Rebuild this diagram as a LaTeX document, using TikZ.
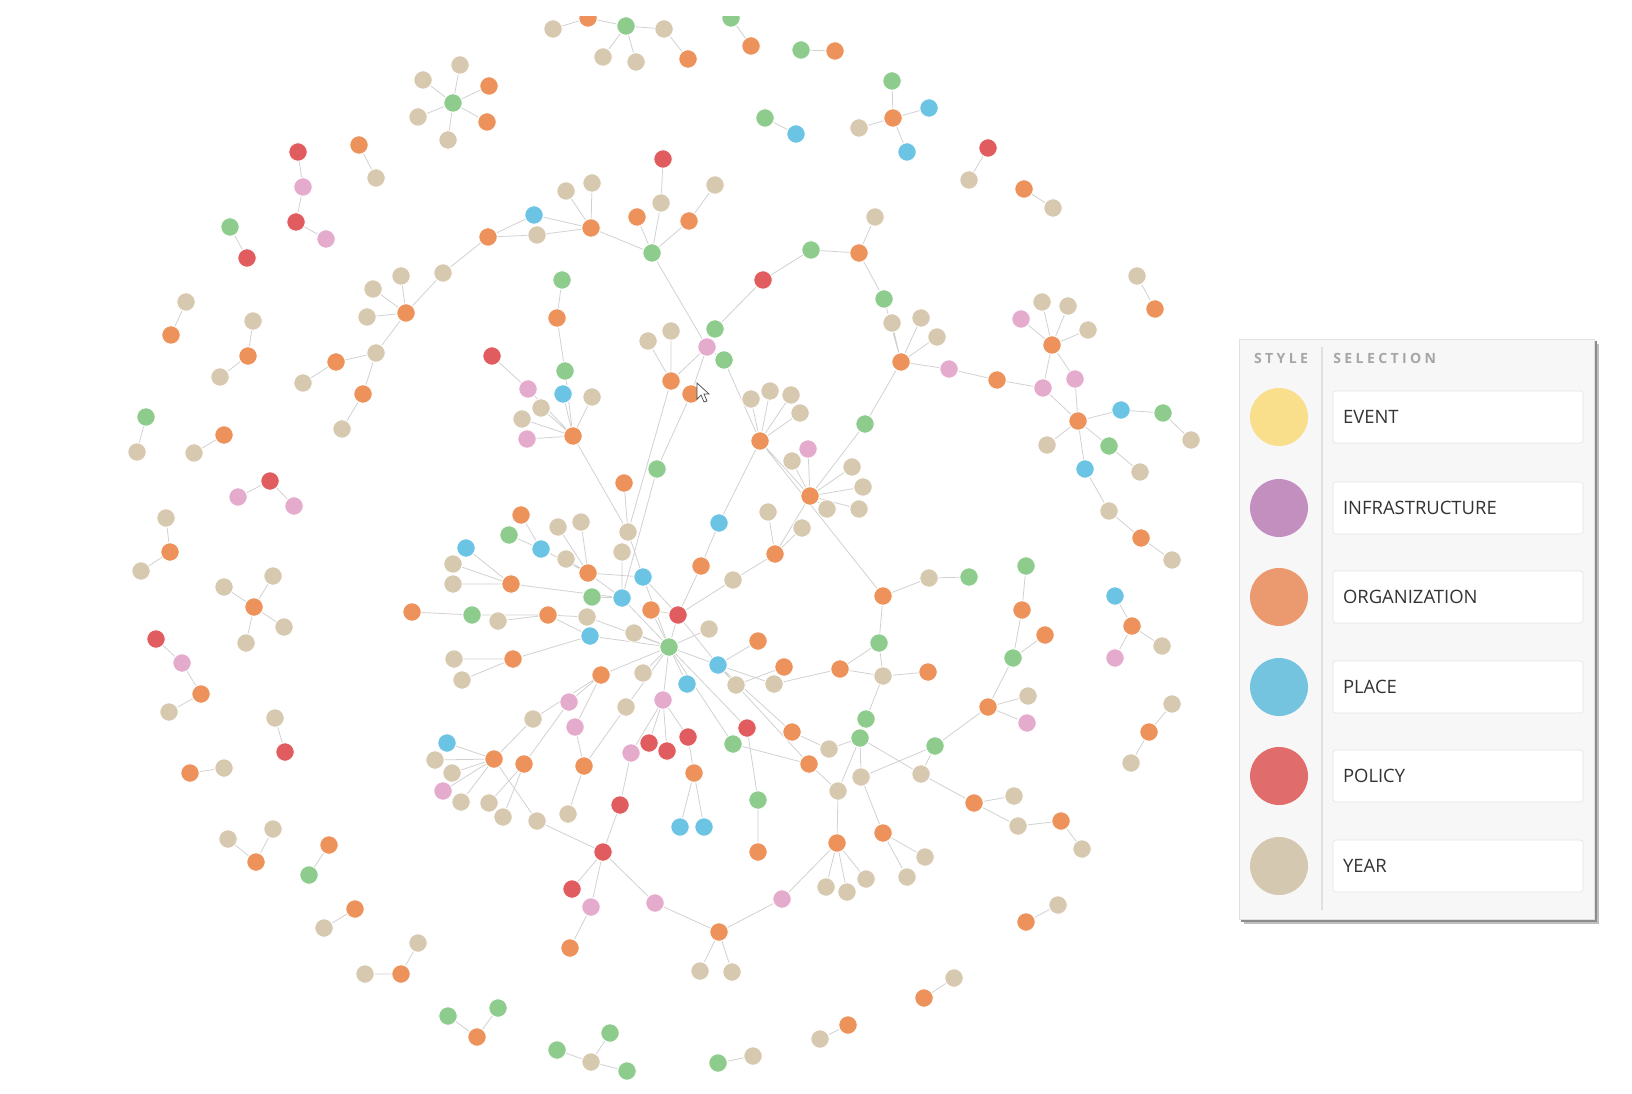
\documentclass[tikz,border=0pt]{standalone}
\usepackage{fontspec}
\setmainfont{Open Sans}
\usetikzlibrary{backgrounds}

\definecolor{orgc}{RGB}{236,146,90}
\definecolor{yrc}{RGB}{215,201,176}
\definecolor{grnc}{RGB}{141,204,140}
\definecolor{plcc}{RGB}{108,196,229}
\definecolor{polc}{RGB}{225,92,95}
\definecolor{infc}{RGB}{228,171,205}
\definecolor{evtl}{RGB}{249,222,139}
\definecolor{infl}{RGB}{194,143,191}
\definecolor{orgl}{RGB}{234,154,110}
\definecolor{plcl}{RGB}{116,196,224}
\definecolor{poll}{RGB}{224,109,107}
\definecolor{yrl}{RGB}{212,200,177}

\tikzstyle{gn}=[circle,draw=white,line width=0.5pt,minimum size=0.37cm,inner sep=0pt]
\tikzstyle{org}=[gn,fill=orgc]
\tikzstyle{yr}=[gn,fill=yrc]
\tikzstyle{grn}=[gn,fill=grnc]
\tikzstyle{plc}=[gn,fill=plcc]
\tikzstyle{pol}=[gn,fill=polc]
\tikzstyle{inf}=[gn,fill=infc]
\tikzstyle{lk}=[draw=black!18,line width=0.45pt]
\tikzstyle{legdot}=[circle,minimum size=1.16cm,inner sep=0pt]
\tikzstyle{legbox}=[rectangle,fill=white,draw=black!10,rounded corners=1.5pt,minimum width=5cm,minimum height=1.04cm,text width=4.6cm,inner xsep=0.2cm,align=left,text=black!80,font=\fontsize{10.5}{12}\selectfont]
\tikzstyle{hdr}=[text=black!35,inner sep=0pt,font=\fontsize{8}{9}\selectfont\bfseries\addfontfeature{LetterSpace=24}]

\begin{document}
\begin{tikzpicture}[x=0.02cm,y=-0.02cm]
\useasboundingbox (0,0) rectangle (1632,1094);

\begin{scope}
\clip (0,17) rectangle (1632,1094);

%Top row
\node [org] (t1) at (588,18) {};
\node [grn] (t2) at (626,26) {};
\node [yr] (t3) at (553,29) {};
\node [yr] (t4) at (664,29) {};
\node [yr] (t5) at (603,57) {};
\node [yr] (t6) at (636,62) {};
\node [org] (t7) at (688,59) {};
\node [grn] (t8) at (731,18) {};
\node [org] (t9) at (751,46) {};
\node [grn] (t10) at (801,50) {};
\node [org] (t11) at (835,51) {};

%Star top left
\node [grn] (s1) at (453,103) {};
\node [yr] (s2) at (460,65) {};
\node [yr] (s3) at (423,80) {};
\node [org] (s4) at (489,86) {};
\node [yr] (s5) at (418,117) {};
\node [org] (s6) at (487,122) {};
\node [yr] (s7) at (448,140) {};

%Top right pieces
\node [org] (u1) at (893,118) {};
\node [grn] (u2) at (892,81) {};
\node [plc] (u3) at (929,108) {};
\node [yr] (u4) at (859,128) {};
\node [plc] (u5) at (907,152) {};
\node [grn] (u6) at (765,118) {};
\node [plc] (u7) at (796,134) {};
\node [pol] (u8) at (988,148) {};
\node [yr] (u9) at (969,180) {};
\node [org] (u10) at (1024,189) {};
\node [yr] (u11) at (1053,208) {};
\node [yr] (u12) at (1137,276) {};
\node [org] (u13) at (1155,309) {};

%Left top pieces
\node [org] (l1) at (359,145) {};
\node [yr] (l2) at (376,178) {};
\node [pol] (l3) at (298,152) {};
\node [inf] (l4) at (303,187) {};
\node [pol] (l5) at (296,222) {};
\node [inf] (l6) at (326,239) {};
\node [grn] (l7) at (230,227) {};
\node [pol] (l8) at (247,258) {};
\node [yr] (l9) at (186,302) {};
\node [org] (l10) at (171,335) {};
\node [yr] (l11) at (253,321) {};
\node [org] (l12) at (248,356) {};
\node [yr] (l13) at (220,377) {};

%Upper left branch
\node [org] (c1) at (406,313) {};
\node [yr] (c2) at (401,276) {};
\node [yr] (c3) at (373,289) {};
\node [yr] (c4) at (367,317) {};
\node [yr] (c5) at (376,353) {};
\node [org] (c6) at (336,362) {};
\node [yr] (c7) at (303,383) {};
\node [org] (c8) at (363,394) {};
\node [yr] (c9) at (342,429) {};
\node [yr] (c10) at (443,273) {};
\node [org] (c11) at (488,237) {};
\node [plc] (c12) at (534,215) {};
\node [yr] (c13) at (537,235) {};
\node [org] (c14) at (591,228) {};
\node [yr] (c15) at (566,191) {};
\node [yr] (c16) at (592,183) {};

%Top middle hub
\node [grn] (h1) at (652,253) {};
\node [pol] (h2) at (663,159) {};
\node [yr] (h3) at (661,203) {};
\node [yr] (h4) at (715,185) {};
\node [org] (h5) at (637,217) {};
\node [org] (h6) at (689,221) {};
\node [grn] (p1) at (562,280) {};
\node [org] (p2) at (557,318) {};

%Right upper chain
\node [org] (r1) at (859,253) {};
\node [yr] (r2) at (875,217) {};
\node [grn] (r3) at (811,250) {};
\node [pol] (r4) at (763,280) {};
\node [grn] (r5) at (715,329) {};
\node [inf] (r6) at (707,347) {};
\node [grn] (r7) at (724,360) {};
\node [yr] (r8) at (648,341) {};
\node [yr] (r9) at (671,331) {};
\node [org] (r10) at (671,381) {};
\node [org] (r11) at (691,394) {};

%Left centre cluster
\node [org] (j1) at (573,436) {};
\node [grn] (j2) at (565,371) {};
\node [plc] (j3) at (563,394) {};
\node [yr] (j4) at (592,397) {};
\node [inf] (j5) at (528,389) {};
\node [yr] (j6) at (541,408) {};
\node [yr] (j7) at (522,419) {};
\node [inf] (j8) at (527,439) {};
\node [pol] (j9) at (492,356) {};

%Right centre cluster
\node [org] (a1) at (760,441) {};
\node [yr] (a2) at (751,399) {};
\node [yr] (a3) at (770,391) {};
\node [yr] (a4) at (791,395) {};
\node [yr] (a5) at (800,413) {};
\node [org] (a6) at (810,496) {};
\node [inf] (a7) at (808,449) {};
\node [yr] (a8) at (792,461) {};
\node [yr] (a9) at (827,509) {};
\node [yr] (a10) at (852,467) {};
\node [yr] (a11) at (863,487) {};
\node [yr] (a12) at (859,509) {};
\node [grn] (a13) at (865,424) {};
\node [org] (b1) at (775,554) {};
\node [yr] (b2) at (768,512) {};
\node [yr] (b3) at (802,528) {};

%Centre
\node [org] (m1) at (521,515) {};
\node [grn] (m2) at (509,535) {};
\node [yr] (m3) at (558,527) {};
\node [yr] (m4) at (581,522) {};
\node [plc] (m5) at (541,549) {};
\node [yr] (m6) at (566,559) {};
\node [yr] (m7) at (622,552) {};
\node [org] (m8) at (588,573) {};
\node [plc] (m9) at (643,577) {};
\node [org] (m10) at (701,566) {};
\node [yr] (m11) at (733,580) {};
\node [plc] (m12) at (719,523) {};
\node [yr] (m13) at (628,532) {};
\node [org] (m14) at (624,483) {};
\node [grn] (m15) at (657,469) {};
\node [org] (m16) at (511,584) {};
\node [grn] (m17) at (592,597) {};
\node [plc] (m18) at (622,598) {};
\node [org] (m19) at (651,610) {};
\node [pol] (m20) at (678,615) {};
\node [yr] (m21) at (498,621) {};
\node [org] (m22) at (548,615) {};
\node [yr] (m23) at (587,617) {};
\node [plc] (m24) at (590,636) {};
\node [yr] (m25) at (634,633) {};
\node [yr] (m26) at (709,629) {};
\node [grn] (m27) at (669,647) {};
\node [org] (m28) at (758,641) {};
\node [plc] (m29) at (718,665) {};
\node [org] (m30) at (513,659) {};
\node [org] (m31) at (601,675) {};
\node [yr] (m32) at (643,673) {};
\node [plc] (m33) at (687,684) {};
\node [yr] (m34) at (736,685) {};
\node [yr] (m35) at (774,684) {};
\node [org] (m36) at (784,667) {};
\node [org] (m37) at (840,669) {};
\node [inf] (m38) at (569,702) {};
\node [yr] (m39) at (626,707) {};
\node [inf] (m40) at (663,700) {};
\node [yr] (m41) at (533,719) {};
\node [inf] (m42) at (575,727) {};
\node [plc] (k1) at (466,548) {};
\node [yr] (k2) at (453,564) {};
\node [yr] (k3) at (453,584) {};
\node [org] (k4) at (412,612) {};
\node [grn] (k5) at (472,615) {};
\node [yr] (k6) at (454,659) {};
\node [yr] (k7) at (462,680) {};

%Lower middle
\node [org] (n1) at (494,759) {};
\node [org] (n2) at (524,764) {};
\node [org] (n3) at (584,766) {};
\node [yr] (n4) at (489,803) {};
\node [yr] (n5) at (503,817) {};
\node [yr] (n6) at (537,821) {};
\node [yr] (n7) at (568,814) {};
\node [inf] (n9) at (631,753) {};
\node [pol] (n10) at (649,743) {};
\node [pol] (n11) at (667,751) {};
\node [pol] (n12) at (688,737) {};
\node [grn] (n13) at (733,744) {};
\node [org] (n14) at (694,773) {};
\node [plc] (n15) at (680,827) {};
\node [plc] (n16) at (704,827) {};
\node [pol] (n17) at (620,805) {};
\node [pol] (n18) at (603,852) {};
\node [pol] (n19) at (572,889) {};
\node [inf] (n20) at (591,907) {};
\node [org] (n21) at (570,948) {};
\node [inf] (n22) at (655,903) {};
\node [org] (n23) at (719,932) {};
\node [yr] (n24) at (700,971) {};
\node [yr] (n25) at (732,972) {};
\node [inf] (n26) at (782,899) {};
\node [org] (n27) at (837,843) {};
\node [yr] (n28) at (826,887) {};
\node [yr] (n29) at (847,892) {};
\node [grn] (n30) at (758,800) {};
\node [org] (n31) at (758,852) {};
\node [org] (n32) at (809,764) {};
\node [yr] (n33) at (829,749) {};
\node [org] (n34) at (792,732) {};
\node [yr] (n35) at (838,791) {};
\node [pol] (n36) at (747,728) {};
\node [plc] (o1) at (447,743) {};
\node [yr] (o2) at (435,760) {};
\node [yr] (o3) at (452,773) {};
\node [inf] (o4) at (443,791) {};
\node [yr] (o5) at (461,802) {};

%Lower right
\node [grn] (q1) at (866,719) {};
\node [grn] (q2) at (860,738) {};
\node [grn] (q3) at (935,746) {};
\node [yr] (q4) at (861,777) {};
\node [yr] (q5) at (921,774) {};
\node [org] (q6) at (974,803) {};
\node [yr] (q7) at (1014,796) {};
\node [yr] (q8) at (1018,826) {};
\node [org] (q9) at (1061,821) {};
\node [yr] (q10) at (1082,849) {};
\node [org] (q11) at (883,833) {};
\node [yr] (q12) at (925,857) {};
\node [yr] (q13) at (907,877) {};
\node [yr] (q14) at (866,879) {};
\node [org] (v1) at (883,596) {};
\node [yr] (v2) at (929,578) {};
\node [grn] (v3) at (969,577) {};
\node [grn] (v4) at (879,643) {};
\node [yr] (v5) at (883,676) {};
\node [org] (v6) at (928,672) {};
\node [grn] (w1) at (1026,566) {};
\node [org] (w2) at (1022,610) {};
\node [org] (w3) at (1045,635) {};
\node [grn] (w4) at (1013,658) {};
\node [yr] (w5) at (1028,696) {};
\node [org] (w6) at (988,707) {};
\node [inf] (w7) at (1027,723) {};
\node [plc] (x1) at (1115,596) {};
\node [org] (x2) at (1132,626) {};
\node [yr] (x3) at (1162,646) {};
\node [inf] (x4) at (1115,658) {};
\node [yr] (x5) at (1172,704) {};
\node [org] (x6) at (1149,732) {};
\node [yr] (x7) at (1131,763) {};

%Right cluster
\node [org] (y1) at (901,362) {};
\node [inf] (y2) at (949,369) {};
\node [org] (y3) at (997,380) {};
\node [inf] (y4) at (1043,388) {};
\node [inf] (y5) at (1075,379) {};
\node [org] (y6) at (1078,421) {};
\node [plc] (y7) at (1121,410) {};
\node [grn] (y8) at (1163,413) {};
\node [yr] (y9) at (1191,440) {};
\node [yr] (y10) at (1047,445) {};
\node [grn] (y11) at (1109,446) {};
\node [yr] (y12) at (1140,472) {};
\node [plc] (y13) at (1085,469) {};
\node [yr] (y14) at (1109,511) {};
\node [org] (y15) at (1141,538) {};
\node [yr] (y16) at (1172,560) {};
\node [yr] (z1) at (1042,302) {};
\node [yr] (z2) at (1068,306) {};
\node [inf] (z3) at (1021,319) {};
\node [yr] (z4) at (1088,330) {};
\node [org] (z5) at (1052,345) {};
\node [grn] (g1) at (884,299) {};
\node [yr] (g2) at (892,323) {};
\node [yr] (g3) at (921,318) {};
\node [yr] (g4) at (937,337) {};

%Left side pieces
\node [grn] (e1) at (146,417) {};
\node [yr] (e2) at (137,452) {};
\node [org] (e3) at (224,435) {};
\node [yr] (e4) at (194,453) {};
\node [pol] (e5) at (270,481) {};
\node [inf] (e6) at (238,497) {};
\node [inf] (e7) at (294,506) {};
\node [yr] (e8) at (166,518) {};
\node [org] (e9) at (170,552) {};
\node [yr] (e10) at (141,571) {};
\node [org] (e11) at (254,607) {};
\node [yr] (e12) at (224,587) {};
\node [yr] (e13) at (273,576) {};
\node [yr] (e14) at (284,627) {};
\node [yr] (e15) at (246,643) {};
\node [pol] (e16) at (156,639) {};
\node [inf] (e17) at (182,663) {};
\node [org] (e18) at (201,694) {};
\node [yr] (e19) at (169,712) {};
\node [yr] (e20) at (275,718) {};
\node [pol] (e21) at (285,752) {};
\node [org] (e22) at (190,773) {};
\node [yr] (e23) at (224,768) {};
\node [yr] (e24) at (228,839) {};
\node [yr] (e25) at (273,829) {};
\node [org] (e26) at (256,862) {};
\node [org] (e27) at (329,845) {};
\node [grn] (e28) at (309,875) {};
\node [org] (e29) at (355,909) {};
\node [yr] (e30) at (324,928) {};
\node [yr] (e31) at (418,943) {};
\node [org] (e32) at (401,974) {};
\node [yr] (e33) at (365,974) {};
\node [grn] (e34) at (448,1016) {};
\node [org] (e35) at (477,1037) {};
\node [grn] (e36) at (498,1008) {};

%Bottom pieces
\node [grn] (f1) at (610,1033) {};
\node [grn] (f2) at (557,1050) {};
\node [yr] (f3) at (591,1062) {};
\node [grn] (f4) at (627,1071) {};
\node [grn] (f5) at (718,1063) {};
\node [yr] (f6) at (753,1056) {};
\node [yr] (f7) at (820,1039) {};
\node [org] (f8) at (848,1025) {};
\node [yr] (f9) at (954,978) {};
\node [org] (f10) at (924,998) {};
\node [yr] (f11) at (1058,905) {};
\node [org] (f12) at (1026,922) {};

%Mouse pointer
\draw [fill=white,draw=black!70,line width=0.4pt] (697,383) -- (697,399) -- (701,395) -- (704,402) -- (707,401) -- (704,394) -- (709,394) -- cycle;
\end{scope}

\begin{scope}[on background layer]
\fill [white] (0,0) rectangle (1632,1094);
%top
\draw [lk] (t3) -- (t1) (t1) -- (t2) (t2) -- (t4) (t2) -- (t5) (t2) -- (t6) (t4) -- (t7) (t8) -- (t9) (t10) -- (t11);
\draw [lk] (s1) -- (s2) (s1) -- (s3) (s1) -- (s4) (s1) -- (s5) (s1) -- (s6) (s1) -- (s7);
\draw [lk] (u1) -- (u2) (u1) -- (u3) (u1) -- (u4) (u1) -- (u5) (u6) -- (u7) (u8) -- (u9) (u10) -- (u11) (u12) -- (u13);
\draw [lk] (l1) -- (l2) (l3) -- (l4) (l4) -- (l5) (l5) -- (l6) (l7) -- (l8) (l9) -- (l10) (l11) -- (l12) (l12) -- (l13);
%upper branches
\draw [lk] (c1) -- (c2) (c1) -- (c3) (c1) -- (c4) (c1) -- (c5) (c5) -- (c6) (c6) -- (c7) (c5) -- (c8) (c8) -- (c9);
\draw [lk] (c1) -- (c10) (c10) -- (c11) (c11) -- (c12) (c11) -- (c13) (c12) -- (c14) (c13) -- (c14) (c14) -- (c15) (c14) -- (c16) (c14) -- (h1);
\draw [lk] (h1) -- (h3) (h3) -- (h2) (h1) -- (h5) (h1) -- (h6) (h6) -- (h4) (h1) -- (r6);
\draw [lk] (p1) -- (p2) (p2) -- (j2);
\draw [lk] (r1) -- (r2) (r1) -- (r3) (r3) -- (r4) (r4) -- (r5) (r5) -- (r6) (r6) -- (r7) (r6) -- (r10) (r6) -- (r11) (r8) -- (r10) (r9) -- (r10) (r7) -- (a1) (r10) -- (m13) (r11) -- (m15);
\draw [lk] (j1) -- (j2) (j1) -- (j3) (j1) -- (j4) (j1) -- (j5) (j1) -- (j6) (j1) -- (j7) (j1) -- (j8) (j5) -- (j9) (j1) -- (m13);
\draw [lk] (a1) -- (a2) (a1) -- (a3) (a1) -- (a4) (a1) -- (a5) (a1) -- (a6) (a6) -- (a7) (a6) -- (a8) (a6) -- (a9) (a6) -- (a10) (a6) -- (a11) (a6) -- (a12) (a6) -- (a13) (a13) -- (y1) (a1) -- (m12) (a1) -- (v1);
\draw [lk] (b1) -- (b2) (b1) -- (b3) (b1) -- (a6) (b1) -- (m11);
%centre
\draw [lk] (m1) -- (m5) (m2) -- (m5) (m5) -- (m8) (m3) -- (m8) (m4) -- (m8) (m6) -- (m8) (m8) -- (m9) (m8) -- (m18) (m7) -- (m18) (m9) -- (m27) (m13) -- (m9) (m14) -- (m13) (m15) -- (m18);
\draw [lk] (k1) -- (m16) (k2) -- (m16) (k3) -- (m16) (m16) -- (m18) (k4) -- (k5) (k5) -- (m22) (m21) -- (m22) (k6) -- (m30) (k7) -- (m30);
\draw [lk] (m17) -- (m18) (m18) -- (m27) (m19) -- (m27) (m20) -- (m27) (m10) -- (m20) (m12) -- (m10) (m11) -- (m20) (m9) -- (m20) (m19) -- (m20) (m20) -- (m29);
\draw [lk] (m22) -- (m23) (m22) -- (m24) (m23) -- (m27) (m24) -- (m27) (m25) -- (m27) (m26) -- (m27) (m28) -- (m29) (m29) -- (m27) (m29) -- (m34) (m36) -- (m34) (m37) -- (m35) (m35) -- (m29) (m30) -- (m24);
\draw [lk] (m31) -- (m27) (m31) -- (m38) (m32) -- (m27) (m33) -- (m27) (m39) -- (m27) (m40) -- (m27) (m41) -- (m31) (m42) -- (m31);
%lower middle
\draw [lk] (o1) -- (n1) (o2) -- (n1) (o3) -- (n1) (o4) -- (n1) (o5) -- (n1) (n1) -- (m41) (n1) -- (n6) (n2) -- (n4) (n2) -- (n5) (n2) -- (m38) (n3) -- (n7) (n3) -- (m42) (n3) -- (m39);
\draw [lk] (n6) -- (n18) (n9) -- (m40) (n9) -- (n17) (n17) -- (n18) (n18) -- (n19) (n18) -- (n20) (n20) -- (n21) (n18) -- (n22) (n22) -- (n23) (n23) -- (n24) (n23) -- (n25) (n23) -- (n26) (n26) -- (n27);
\draw [lk] (n27) -- (n28) (n27) -- (n29) (n27) -- (n35) (n27) -- (q14) (n14) -- (n12) (n14) -- (n15) (n14) -- (n16) (n10) -- (m40) (n11) -- (m40) (n12) -- (m40);
\draw [lk] (n13) -- (m27) (n13) -- (n32) (n36) -- (m27) (n36) -- (n30) (n30) -- (n31) (n34) -- (n33) (n34) -- (m29) (n32) -- (m29) (n32) -- (n35) (n33) -- (q2) (n35) -- (q2);
%lower right
\draw [lk] (q1) -- (v5) (q1) -- (q2) (q2) -- (q4) (q2) -- (q5) (q3) -- (q5) (q3) -- (q4) (q3) -- (w6) (q5) -- (q6) (q6) -- (q7) (q6) -- (q8) (q8) -- (q9) (q9) -- (q10) (q4) -- (q11) (q11) -- (q12) (q11) -- (q13);
\draw [lk] (v1) -- (v2) (v2) -- (v3) (v1) -- (v4) (v4) -- (v5) (v5) -- (v6) (v5) -- (m37) (v4) -- (m37);
\draw [lk] (w1) -- (w2) (w2) -- (w4) (w3) -- (w4) (w4) -- (w6) (w6) -- (w5) (w6) -- (w7);
\draw [lk] (x1) -- (x2) (x2) -- (x3) (x2) -- (x4) (x5) -- (x6) (x6) -- (x7);
%right
\draw [lk] (r1) -- (g1) (g1) -- (y1) (g2) -- (y1) (g3) -- (y1) (g4) -- (y1) (y1) -- (y2) (y2) -- (y3) (y3) -- (y4) (y4) -- (y6) (y5) -- (y6) (z5) -- (y4) (z5) -- (y5);
\draw [lk] (z5) -- (z1) (z5) -- (z2) (z5) -- (z3) (z5) -- (z4);
\draw [lk] (y6) -- (y7) (y7) -- (y8) (y8) -- (y9) (y6) -- (y10) (y6) -- (y11) (y11) -- (y12) (y6) -- (y13) (y13) -- (y14) (y14) -- (y15) (y15) -- (y16);
%left and bottom
\draw [lk] (e1) -- (e2) (e3) -- (e4) (e5) -- (e6) (e5) -- (e7) (e8) -- (e9) (e9) -- (e10) (e11) -- (e12) (e11) -- (e13) (e11) -- (e14) (e11) -- (e15);
\draw [lk] (e16) -- (e17) (e17) -- (e18) (e18) -- (e19) (e20) -- (e21) (e22) -- (e23) (e26) -- (e24) (e26) -- (e25) (e27) -- (e28) (e29) -- (e30) (e32) -- (e31) (e32) -- (e33) (e34) -- (e35) (e35) -- (e36);
\draw [lk] (f3) -- (f1) (f3) -- (f2) (f3) -- (f4) (f5) -- (f6) (f7) -- (f8) (f9) -- (f10) (f11) -- (f12);
\end{scope}

%Legend panel
\fill [black!25] (1244,344) rectangle (1599,924);
\fill [black!45] (1241,341) rectangle (1597,922);
\fill [black!3] (1239,339) rectangle (1594,919);
\draw [black!12,line width=0.4pt] (1239,339) rectangle (1594,919);
\node [hdr] (hs) at (1281,358) {STYLE};
\node [hdr,anchor=west] (hl) at (1333,358) {SELECTION};
\draw [black!12,line width=0.8pt] (1322,347) -- (1322,910);

\node [legdot,fill=evtl] (ev) at (1279,417) {};
\node [legdot,fill=infl] (in) at (1279,508) {};
\node [legdot,fill=orgl] (or) at (1279,597) {};
\node [legdot,fill=plcl] (pl) at (1279,687) {};
\node [legdot,fill=poll] (po) at (1279,776) {};
\node [legdot,fill=yrl] (ye) at (1279,866) {};

\node [legbox] (evb) at (1458,417) {EVENT};
\node [legbox] (inb) at (1458,508) {INFRASTRUCTURE};
\node [legbox] (orb) at (1458,597) {ORGANIZATION};
\node [legbox] (plb) at (1458,687) {PLACE};
\node [legbox] (pob) at (1458,776) {POLICY};
\node [legbox] (yeb) at (1458,866) {YEAR};

\end{tikzpicture}
\end{document}
